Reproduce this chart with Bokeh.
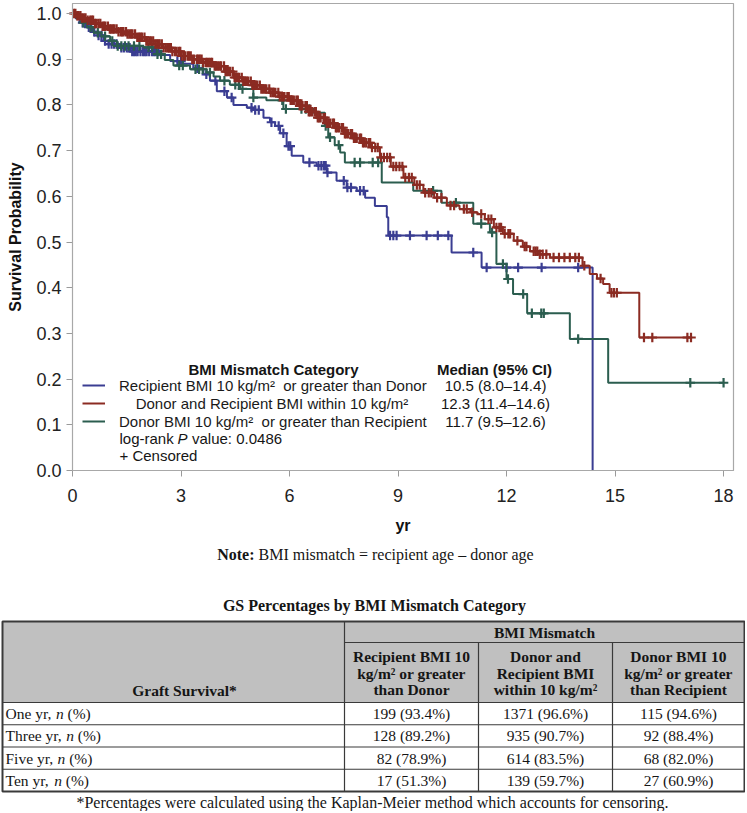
import numpy as np
from bokeh.plotting import figure
from bokeh.models import (Range1d, FixedTicker, NumeralTickFormatter, Legend,
                          LegendItem, BoxAnnotation, LinearAxis)
from bokeh.embed import file_html
from bokeh.resources import INLINE
from bokeh.core.properties import value

# ---------------- data ----------------
series_names = ["Recipient BMI 10 kg/m\u00b2  or greater than Donor",
                "Donor and Recipient BMI within 10 kg/m\u00b2",
                "Donor BMI 10 kg/m\u00b2  or greater than Recipient"]
medians = ["10.5 (8.0\u201314.4)", "12.3 (11.4\u201314.6)", "11.7 (9.5\u201312.6)"]
logrank_p = "0.0486"

# Recipient BMI >= 10 greater than donor (event times, survival after step)
blue_t = [0, 0.1, 0.25, 0.4, 0.55, 0.7, 0.86, 1.0, 1.3, 1.6, 2.42, 2.7, 3.05, 3.34,
          3.62, 3.8, 3.99, 4.27, 4.45, 4.82, 5.0, 5.28, 5.46, 5.6, 5.74, 5.92, 6.06,
          6.38, 6.75, 7.03, 7.3, 7.58, 7.86, 8.09, 8.36, 8.69, 8.73, 10.48, 11.31, 14.38]
blue_s = [1.0, 0.99, 0.98, 0.97, 0.96, 0.952, 0.94, 0.933, 0.925, 0.917, 0.909, 0.896,
          0.89, 0.88, 0.867, 0.853, 0.83, 0.816, 0.80, 0.794, 0.789, 0.772, 0.762, 0.754,
          0.738, 0.71, 0.689, 0.674, 0.667, 0.652, 0.634, 0.619, 0.612, 0.597, 0.579,
          0.554, 0.514, 0.477, 0.444, 0.0]
blue_cens = [0.2, 0.28, 0.35, 0.45, 0.52, 0.6, 0.72, 0.8, 0.9, 1.0, 1.08, 1.15, 1.22,
             1.35, 1.42, 1.5, 1.58, 1.65, 1.7, 1.75, 1.8, 1.88, 1.95, 2.0, 2.05, 2.12,
             2.2, 2.25, 2.3, 2.38, 2.9, 3.0, 3.45, 3.7, 3.95, 4.2, 4.4, 4.95, 5.05, 5.15,
             5.5, 5.7, 5.83, 5.97, 6.02, 6.55, 6.8, 6.88, 6.95, 7.0, 7.05, 7.5, 7.6, 7.7,
             7.95, 8.05, 8.78, 8.87, 8.96, 9.33, 9.79, 10.1, 10.39, 11.08, 11.45, 12.0,
             12.32, 12.97, 13.98]

# Donor and recipient BMI within 10
red_t = [0, 0.1, 0.25, 0.4, 0.6, 0.8, 1.0, 1.25, 1.5, 1.75, 2.0, 2.25, 2.5, 2.75, 3.0,
         3.3, 3.6, 3.9, 4.2, 4.45, 4.7, 4.95, 5.2, 5.45, 5.7, 6.0, 6.25, 6.5, 6.75, 7.0,
         7.25, 7.5, 7.75, 8.0, 8.25, 8.5, 8.8, 9.15, 9.45, 9.7, 10.0, 10.35, 10.7, 11.0,
         11.2, 11.4, 11.65, 11.9, 12.2, 12.45, 12.65, 12.9, 13.2, 14.1, 14.3, 14.5, 14.67,
         14.85, 15.67]
red_s = [1.0, 0.995, 0.99, 0.985, 0.978, 0.972, 0.966, 0.96, 0.955, 0.948, 0.94, 0.933,
         0.925, 0.917, 0.907, 0.9, 0.893, 0.885, 0.873, 0.86, 0.852, 0.843, 0.835, 0.827,
         0.818, 0.81, 0.798, 0.785, 0.772, 0.76, 0.75, 0.737, 0.727, 0.717, 0.707, 0.685,
         0.665, 0.641, 0.625, 0.608, 0.597, 0.58, 0.572, 0.565, 0.561, 0.55, 0.532, 0.518,
         0.503, 0.49, 0.48, 0.473, 0.466, 0.448, 0.43, 0.42, 0.408, 0.389, 0.291]
red_cens = [0.04, 0.08, 0.13, 0.17, 0.22, 0.26, 0.31, 0.36, 0.42, 0.49, 0.53, 0.57, 0.62,
            0.66, 0.72, 0.77, 0.83, 0.87, 0.91, 0.98, 1.03, 1.07, 1.12, 1.16, 1.22, 1.27,
            1.33, 1.37, 1.41, 1.48, 1.52, 1.57, 1.62, 1.66, 1.73, 1.79, 1.84, 1.88, 1.92,
            1.99, 2.04, 2.08, 2.13, 2.17, 2.23, 2.29, 2.34, 2.38, 2.41, 2.47, 2.52, 2.58,
            2.63, 2.67, 2.72, 2.76, 2.83, 2.88, 2.94, 2.98, 3.02, 3.07, 3.11, 3.18, 3.22,
            3.27, 3.31, 3.36, 3.44, 3.48, 3.52, 3.57, 3.61, 3.68, 3.72, 3.77, 3.82, 3.86,
            3.93, 3.97, 4.02, 4.07, 4.11, 4.19, 4.23, 4.27, 4.32, 4.36, 4.43, 4.48, 4.52,
            4.57, 4.61, 4.68, 4.72, 4.77, 4.82, 4.86, 4.93, 4.97, 5.02, 5.07, 5.11, 5.18,
            5.22, 5.27, 5.32, 5.36, 5.44, 5.48, 5.53, 5.57, 5.61, 5.69, 5.73, 5.78, 5.82,
            5.86, 5.94, 5.98, 6.03, 6.07, 6.12, 6.19, 6.23, 6.28, 6.32, 6.36, 6.44, 6.48,
            6.53, 6.57, 6.62, 6.69, 6.73, 6.78, 6.82, 6.86, 6.94, 6.98, 7.03, 7.07, 7.12,
            7.19, 7.23, 7.28, 7.32, 7.37, 7.44, 7.48, 7.53, 7.57, 7.62, 7.69, 7.73, 7.78,
            7.82, 7.86, 7.94, 7.98, 8.03, 8.07, 8.12, 8.19, 8.23, 8.28, 8.37, 8.44, 8.53,
            8.61, 8.7, 8.78, 8.87, 8.95, 9.04, 9.12, 9.2, 9.3, 9.38, 9.52, 9.6, 9.75, 9.85,
            9.92, 10.08, 10.2, 10.45, 10.55, 10.82, 10.9, 11.05, 11.3, 11.5, 11.58, 11.72,
            11.8, 11.85, 11.95, 12.05, 12.1, 12.3, 12.5, 12.55, 12.75, 12.8, 12.85, 12.92,
            13.0, 13.1, 13.3, 13.45, 13.6, 13.75, 13.9, 14.0, 14.15, 14.6, 14.9, 14.97,
            15.05, 15.8, 16.03, 17.0, 17.1]

# Donor BMI >= 10 greater than recipient
green_t = [0, 0.1, 0.25, 0.4, 0.58, 0.8, 1.04, 1.23, 1.96, 2.33, 2.55, 2.79, 3.25, 3.71,
           3.9, 4.08, 4.35, 4.63, 5.0, 5.36, 5.83, 6.66, 6.98, 7.07, 7.25, 7.4, 7.53,
           8.55, 9.42, 10.2, 11.08, 11.54, 11.72, 12.0, 12.18, 12.57, 13.75, 14.81]
green_s = [1.0, 0.99, 0.98, 0.97, 0.958, 0.95, 0.94, 0.929, 0.926, 0.911, 0.898, 0.886,
           0.878, 0.871, 0.862, 0.853, 0.844, 0.835, 0.816, 0.81, 0.791, 0.783, 0.754,
           0.729, 0.712, 0.696, 0.674, 0.630, 0.612, 0.586, 0.540, 0.521, 0.452, 0.419,
           0.386, 0.344, 0.288, 0.192]
green_cens = [0.3, 0.5, 0.7, 0.9, 1.1, 1.25, 1.35, 1.45, 1.55, 1.7, 1.85, 2.1, 2.2, 2.35,
              2.45, 2.95, 3.05, 3.4, 3.5, 3.6, 3.8, 4.2, 4.5, 4.6, 4.7, 5.0, 5.8, 5.9,
              6.33, 6.45, 6.55, 7.0, 7.12, 7.36, 7.8, 7.95, 8.3, 8.45, 9.97, 10.6, 11.3,
              11.6, 11.9, 12.04, 12.46, 12.7, 12.96, 13.03, 13.98, 17.08, 18.0]

x_ticks = [0, 3, 6, 9, 12, 15, 18]
y_ticks = [0.0, 0.1, 0.2, 0.3, 0.4, 0.5, 0.6, 0.7, 0.8, 0.9, 1.0]

# table
note_text = "BMI mismatch = recipient age \u2013 donor age"
table_title = "GS Percentages by BMI Mismatch Category"
footnote = "*Percentages were calculated using the Kaplan-Meier method which accounts for censoring."
row_labels = ["One yr,", "Three yr,", "Five yr,", "Ten yr,"]
col_headers = [["Recipient BMI 10", "kg/m\u00b2 or greater", "than Donor"],
               ["Donor and", "Recipient BMI", "within 10 kg/m\u00b2"],
               ["Donor BMI 10", "kg/m\u00b2 or greater", "than Recipient"]]
n_recip = [199, 128, 82, 17]
pct_recip = [93.4, 89.2, 78.9, 51.3]
n_within = [1371, 935, 614, 139]
pct_within = [96.6, 90.7, 83.5, 59.7]
n_donor = [115, 92, 68, 27]
pct_donor = [94.6, 88.4, 82.0, 60.9]

# ---------------- layout / styles ----------------
BLUE, RED, GREEN = "#3a3d92", "#8b2b22", "#2b5d4f"
SANS = "Liberation Sans"
SERIF = "Liberation Serif"
W, H = 745, 811
KL, KR, KT, KB = 72, 733, 3, 470      # survival-plot box, canvas pixels
PX_YR = 36.17                          # pixels per year
PX_P = 457.0                           # pixels per unit of probability
X_END = (KR - KL) / PX_YR
Y_END = (KB - KT) / PX_P


def stairs(times, surv, cens):
    xs, ys = [], []
    for i in range(len(times)):
        xs.append(times[i]); ys.append(surv[i])
        if i + 1 < len(times):
            xs.append(times[i + 1]); ys.append(surv[i])
    if max(cens) > times[-1]:
        xs.append(max(cens)); ys.append(surv[-1])
    return xs, ys


def surv_at(times, surv, pts):
    idx = np.searchsorted(np.array(times), np.array(pts), side="right") - 1
    return [surv[i] for i in idx]


p = figure(width=W, height=H,
           x_range=Range1d(-KL / PX_YR, (W - KL) / PX_YR),
           y_range=Range1d(-(H - KB) / PX_P, KB / PX_P),
           output_backend="svg", toolbar_location=None, min_border=0,
           x_axis_type=None, y_axis_type=None)
p.extra_x_ranges = {"px": Range1d(0, W)}
p.extra_y_ranges = {"px": Range1d(H, 0)}
p.grid.visible = False
p.outline_line_color = None

# box of the survival plot
p.add_layout(BoxAnnotation(left=0, right=X_END, bottom=0, top=Y_END, fill_alpha=0,
                           line_color="#a8a8a8", line_width=1.2, line_alpha=1))

renderers = []
for (t, s, c, col) in [(blue_t, blue_s, blue_cens, BLUE),
                       (green_t, green_s, green_cens, GREEN),
                       (red_t, red_s, red_cens, RED)]:
    xs, ys = stairs(t, s, c)
    r = p.line(xs, ys, line_color=col, line_width=2)
    p.scatter(c, surv_at(t, s, c), marker="cross", size=9.5, line_width=2.2,
              line_color=col)
    renderers.append(r)
r_blue, r_green, r_red = renderers

xaxis = LinearAxis(fixed_location=0, bounds=(0, X_END), axis_label="yr",
                   ticker=FixedTicker(ticks=x_ticks))
yaxis = LinearAxis(fixed_location=0, bounds=(0, Y_END), axis_label="Survival Probability",
                   ticker=FixedTicker(ticks=y_ticks),
                   formatter=NumeralTickFormatter(format="0.0"))
for ax in (xaxis, yaxis):
    ax.axis_line_color = "#9a9a9a"
    ax.major_tick_line_color = "#9a9a9a"
    ax.minor_tick_line_color = None
    ax.major_tick_out = 6
    ax.major_tick_in = 0
    ax.major_label_text_font = SANS
    ax.major_label_text_font_size = "18px"
    ax.major_label_text_color = "#222222"
    ax.axis_label_text_font = SANS
    ax.axis_label_text_font_size = "16px"
    ax.axis_label_text_font_style = "bold"
    ax.axis_label_text_color = "#111111"
xaxis.major_label_standoff = 12
xaxis.axis_label_standoff = 12
yaxis.major_label_standoff = 5
yaxis.axis_label_standoff = 9
p.add_layout(xaxis, "below")
p.add_layout(yaxis, "left")

legend = Legend(items=[
    LegendItem(label=series_names[0], renderers=[r_blue]),
    LegendItem(label="\u00a0\u00a0\u00a0\u00a0" + series_names[1], renderers=[r_red]),
    LegendItem(label=series_names[2], renderers=[r_green]),
], location=(82, H - 430), orientation="vertical", padding=0, spacing=0, margin=0,
    glyph_width=23, glyph_height=18, label_height=18, label_standoff=14,
    border_line_alpha=0, background_fill_alpha=0,
    label_text_font=SANS, label_text_font_size="15px", label_text_color="#1a1a1a")
p.add_layout(legend)


def txt(t, cx, cy, align="left", style="normal", size="15px", font=SANS):
    """Text placed in canvas pixels (from the top-left corner)."""
    p.text(x=[cx], y=[cy], text=[t], x_range_name="px", y_range_name="px",
           text_align=align, text_baseline="middle", text_font=value(font),
           text_font_size=value(size), text_font_style=value(style),
           text_color="#151515")


# legend header, medians, p value
txt("BMI Mismatch Category", 273, 369, "center", "bold")
txt("Median (95% CI)", 494, 369, "center", "bold")
for i, m in enumerate(medians):
    txt(m, 495, 385.3 + 17.7 * i, "center")
txt("log-rank", 119, 438)
txt("P", 177, 438, style="italic")
txt("value: " + logrank_p, 191.5, 438)
txt("+ Censored", 119, 455)

# ---------------- note and table ----------------
TL, TR, C1, C2, C3 = 2, 744, 344, 478, 612
TOP, SUB, HB, BOT = 621, 642, 702, 791
ROWH = (BOT - HB) / 4
LINE = "#3a3a3a"
GRAY = "#c0c0c0"

p.quad(left=[TL], right=[TR], top=[TOP], bottom=[HB], fill_color=GRAY, line_color=None,
       x_range_name="px", y_range_name="px")
seg_x0 = [TL, C1, TL, TL, TL, C1, C2, C3]
seg_x1 = [TR, TR, TR, TR, TR, C1, C2, C3]
seg_y0 = [HB, SUB, HB + ROWH, HB + 2 * ROWH, HB + 3 * ROWH, TOP, SUB, SUB]
seg_y1 = [HB, SUB, HB + ROWH, HB + 2 * ROWH, HB + 3 * ROWH, BOT, BOT, BOT]
p.segment(x0=seg_x0, y0=seg_y0, x1=seg_x1, y1=seg_y1, line_color=LINE, line_width=1.2,
          x_range_name="px", y_range_name="px")
p.quad(left=[TL], right=[TR], top=[TOP], bottom=[BOT], fill_alpha=0, line_color=LINE,
       line_width=2, x_range_name="px", y_range_name="px")

txt("Note:", 254, 554, "right", "bold", "16px", SERIF)
txt(note_text, 258, 554, "left", "normal", "16px", SERIF)
txt(table_title, 374, 605, "center", "bold", "16px", SERIF)
txt("BMI Mismatch", (C1 + TR) / 2, 632, "center", "bold", "15.5px", SERIF)
txt("Graft Survival*", 184, 690, "center", "bold", "15.5px", SERIF)
centers = [(C1 + C2) / 2, (C2 + C3) / 2, (C3 + TR) / 2]
for ci, lines in enumerate(col_headers):
    for li, ln in enumerate(lines):
        txt(ln, centers[ci], 656 + 16.6 * li, "center", "bold", "15.5px", SERIF)

n_offsets = [50.4, 60.7, 52.1, 48.7]
for ri, rl in enumerate(row_labels):
    yc = HB + ROWH * ri + ROWH / 2
    txt(rl, TL + 3, yc, "left", "normal", "15.5px", SERIF)
    txt("n", TL + 3 + n_offsets[ri], yc, "left", "italic", "15.5px", SERIF)
    txt("(%)", TL + 3 + n_offsets[ri] + 11.6, yc, "left", "normal", "15.5px", SERIF)
    vals = [(n_recip[ri], pct_recip[ri]), (n_within[ri], pct_within[ri]),
            (n_donor[ri], pct_donor[ri])]
    for ci, (n, pc) in enumerate(vals):
        txt(f"{n} ({pc:.1f}%)", centers[ci], yc, "center", "normal", "15.5px", SERIF)

txt(footnote, 372, 802, "center", "normal", "16px", SERIF)

open("out.html", "w").write(file_html(p, INLINE))
